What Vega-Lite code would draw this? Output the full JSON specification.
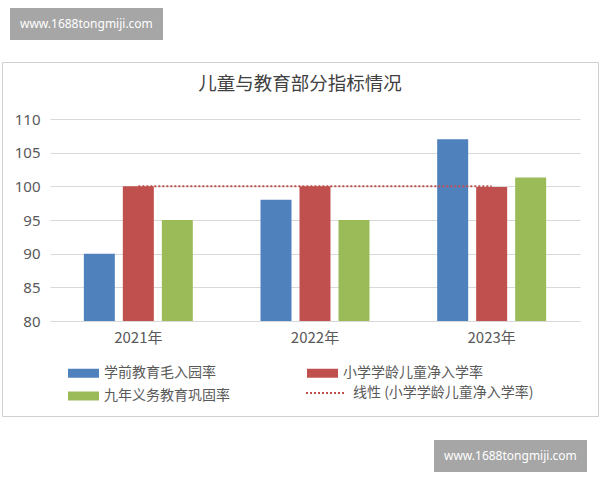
{
  "$schema": "https://vega.github.io/schema/vega-lite/v6.json",
  "autosize": "none",
  "width": 596,
  "height": 354,
  "padding": {"left": 2, "top": 62, "right": 2, "bottom": 64},
  "background": "white",
  "title": {
    "text": "儿童与教育部分指标情况",
    "font": "Noto Sans CJK SC",
    "fontSize": 18.5,
    "fontWeight": "normal",
    "color": "#404040",
    "anchor": "middle",
    "frame": "group",
    "offset": 0,
    "dy": 85
  },
  "datasets": {
    "bars": [
      {"year": "2021年", "series": "学前教育毛入园率", "value": 90},
      {"year": "2021年", "series": "小学学龄儿童净入学率", "value": 100},
      {"year": "2021年", "series": "九年义务教育巩固率", "value": 95},
      {"year": "2022年", "series": "学前教育毛入园率", "value": 98},
      {"year": "2022年", "series": "小学学龄儿童净入学率", "value": 100},
      {"year": "2022年", "series": "九年义务教育巩固率", "value": 95},
      {"year": "2023年", "series": "学前教育毛入园率", "value": 107},
      {"year": "2023年", "series": "小学学龄儿童净入学率", "value": 99.9},
      {"year": "2023年", "series": "九年义务教育巩固率", "value": 101.3}
    ],
    "trend": [
      {"year": "2021年", "value": 100},
      {"year": "2022年", "value": 100},
      {"year": "2023年", "value": 100}
    ],
    "marks": [
      {"label": "www.1688tongmiji.com"}
    ]
  },
  "layer": [
    {
      "data": {"name": "bars"},
      "mark": {"type": "bar"},
      "encoding": {
        "x": {
          "field": "year",
          "type": "nominal",
          "title": null,
          "scale": {"range": [48, 578], "paddingInner": 0, "paddingOuter": 0},
          "axis": {
            "offset": -95,
            "labelAngle": 0,
            "labelPadding": 9,
            "ticks": false,
            "domainColor": "#d9d9d9",
            "labelFont": "Noto Sans CJK SC",
            "labelFontSize": 15,
            "labelColor": "#595959"
          }
        },
        "xOffset": {
          "field": "series",
          "type": "nominal",
          "sort": ["学前教育毛入园率", "小学学龄儿童净入学率", "九年义务教育巩固率"],
          "scale": {"paddingInner": 0.205, "paddingOuter": 0.868}
        },
        "y": {
          "field": "value",
          "type": "quantitative",
          "title": null,
          "scale": {"domain": [80, 110], "range": [259, 57], "nice": false, "zero": false},
          "axis": {
            "offset": -48,
            "values": [80, 85, 90, 95, 100, 105, 110],
            "domain": false,
            "ticks": false,
            "labelPadding": 10,
            "gridColor": "#d9d9d9",
            "labelFont": "Noto Sans",
            "labelFontSize": 15,
            "labelColor": "#595959"
          }
        },
        "y2": {"datum": 80},
        "fill": {
          "field": "series",
          "type": "nominal",
          "scale": {
            "domain": ["学前教育毛入园率", "九年义务教育巩固率", "小学学龄儿童净入学率"],
            "range": ["#4f81bd", "#9bbb59", "#c0504d"]
          },
          "legend": {
            "title": null,
            "orient": "none",
            "legendX": 66,
            "legendY": 295.5,
            "columns": 2,
            "columnPadding": 77,
            "rowPadding": -2.5,
            "symbolType": "M-1,-0.29H1V0.29H-1Z",
            "symbolSize": 961,
            "symbolStrokeWidth": 0,
            "labelOffset": 5,
            "labelFont": "Noto Sans CJK SC",
            "labelFontSize": 14,
            "labelColor": "#595959",
            "labelLimit": 300
          }
        }
      }
    },
    {
      "data": {"name": "trend"},
      "mark": {"type": "line", "strokeDash": [2, 2], "strokeWidth": 2},
      "encoding": {
        "x": {"field": "year", "type": "nominal"},
        "y": {"field": "value", "type": "quantitative"},
        "stroke": {
          "datum": "线性 (小学学龄儿童净入学率)",
          "scale": {"range": ["#c0504d"]},
          "legend": {
            "title": null,
            "orient": "none",
            "legendX": 303,
            "legendY": 310,
            "symbolType": "stroke",
            "symbolSize": 1600,
            "symbolStrokeWidth": 2,
            "symbolDash": [2, 2],
            "labelOffset": 6,
            "labelFont": "Noto Sans CJK SC",
            "labelFontSize": 14,
            "labelColor": "#595959",
            "labelLimit": 300
          }
        }
      }
    },
    {
      "data": {"name": "marks"},
      "mark": {"type": "point", "opacity": 0},
      "encoding": {
        "shape": {
          "field": "label",
          "type": "nominal",
          "legend": {
            "title": null,
            "orient": "none",
            "legendX": 8,
            "legendY": -54,
            "fillColor": "#a6a6a6",
            "padding": 10,
            "symbolSize": 0,
            "symbolStrokeWidth": 0,
            "symbolOpacity": 0,
            "labelOffset": -12,
            "labelFont": "Noto Sans",
            "labelFontSize": 12,
            "labelColor": "white"
          }
        }
      }
    },
    {
      "data": {"name": "marks"},
      "mark": {"type": "point", "opacity": 0},
      "encoding": {
        "shape": {
          "field": "label",
          "type": "nominal",
          "legend": {
            "title": null,
            "orient": "none",
            "legendX": 432,
            "legendY": 378,
            "fillColor": "#a6a6a6",
            "padding": 10,
            "symbolSize": 0,
            "symbolStrokeWidth": 0,
            "symbolOpacity": 0,
            "labelOffset": -12,
            "labelFont": "Noto Sans",
            "labelFontSize": 12,
            "labelColor": "white"
          }
        }
      }
    }
  ],
  "resolve": {
    "scale": {"shape": "independent"},
    "legend": {"shape": "independent"}
  },
  "config": {
    "view": {"stroke": "#d0d0d0", "strokeWidth": 1}
  }
}
